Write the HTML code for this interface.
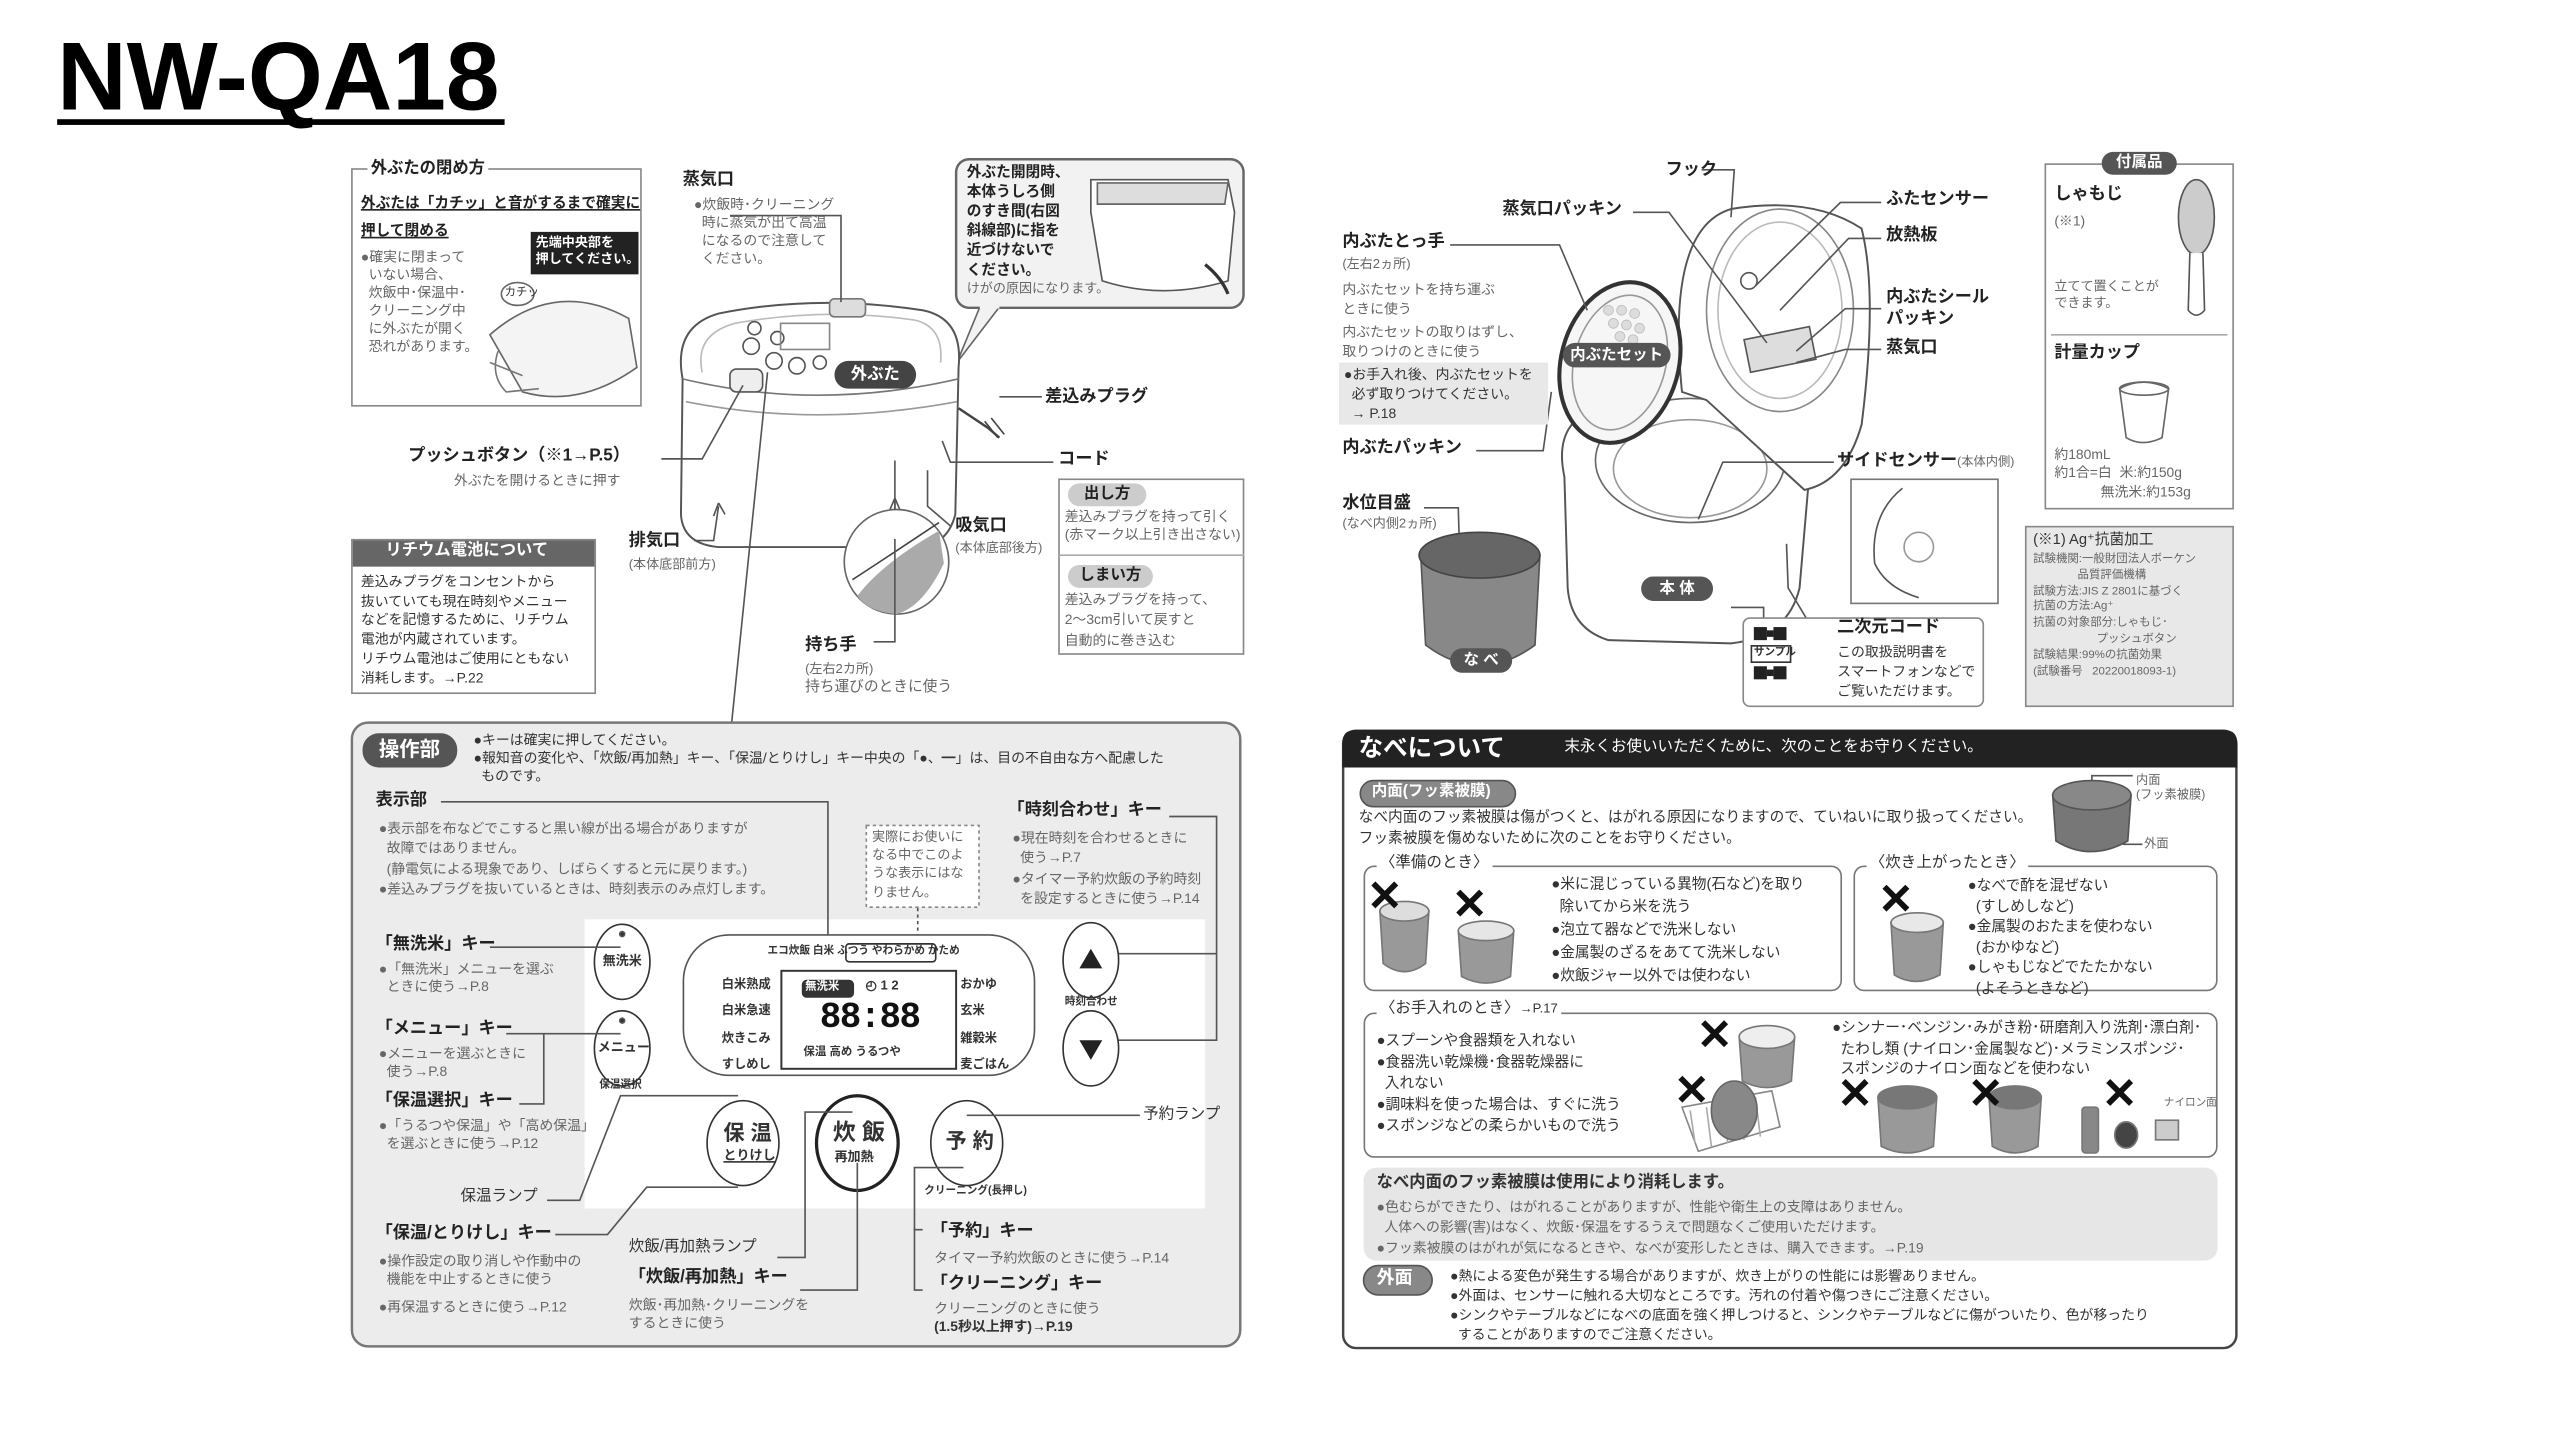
<!DOCTYPE html>
<html><head><meta charset="utf-8">
<style>
html,body{margin:0;padding:0;background:#fff;}
body{width:2560px;height:1440px;overflow:hidden;position:relative;}
#s{position:absolute;left:0;top:0;width:1568px;height:882px;transform:scale(1.633);transform-origin:0 0;font-family:"Liberation Sans","Noto Sans CJK JP",sans-serif;color:#222;}
#s svg{position:absolute;left:0;top:0;}
.t{position:absolute;font-size:8.5px;line-height:1.3;white-space:nowrap;color:#333;}
.g{color:#666;}
.b{font-weight:bold;font-size:10.5px;color:#222;}
.pill{position:absolute;background:#555;color:#fff;font-weight:bold;border-radius:9px;text-align:center;white-space:nowrap;}
.w{background:#fff;padding:0 2px;}
</style></head><body>
<div id="s">
<svg width="1568" height="882" viewBox="0 0 1568 882" fill="none" stroke="#555" stroke-width="1">
<rect x="35" y="73" width="274" height="3.5" fill="#000" stroke="none"/>
<rect x="215.5" y="103.5" width="177" height="145" stroke="#888"/>
<rect x="325" y="142" width="66" height="26" fill="#222" stroke="none"/>
<path d="M300 205 Q340 170 385 195 L390 225 Q355 250 320 240 Z" fill="#f4f4f4" stroke="#666"/>
<path d="M305 215 Q300 230 310 240 L330 238 M300 222 L320 230" stroke="#777"/>
<ellipse cx="317" cy="180" rx="10" ry="7" fill="#fff" stroke="#666"/>
<rect x="585.5" y="97.5" width="176" height="91" rx="8" stroke="#666" stroke-width="1.5" fill="#f2f2f2"/>
<path d="M600 188 L586 222 L612 188" fill="#f2f2f2" stroke="#666"/>
<line x1="600" y1="188" x2="612" y2="188" stroke="#f2f2f2" stroke-width="2"/>
<path d="M668 110 L752 110 L756 130 L752 172 Q712 184 675 172 L668 130 Z" fill="#fff" stroke="#555"/>
<path d="M672 112 L752 112 L750 125 L672 125 Z" fill="#ddd" stroke="#666"/>
<path d="M738 162 Q748 170 752 180" stroke="#333" stroke-width="2"/>
<path d="M418 232 Q412 200 440 192 Q500 180 565 190 Q590 195 587 225 L585 315 Q580 335 560 335 L440 335 Q418 333 417 315 Z" fill="#fff" stroke="#555" stroke-width="1.2"/>
<path d="M418 232 Q500 252 587 232" stroke="#777"/>
<path d="M420 246 Q500 262 586 246" stroke="#999"/>
<path d="M430 228 Q425 205 450 198 Q505 188 560 196 Q578 200 576 222" stroke="#bbb"/>
<rect x="508" y="183" width="22" height="11" rx="3" fill="#ddd" stroke="#777"/>
<circle cx="462" cy="201" r="4"/><circle cx="460" cy="212" r="5"/><circle cx="474" cy="221" r="5"/>
<circle cx="488" cy="224" r="5"/><circle cx="476" cy="207" r="4"/>
<rect x="478" y="198" width="30" height="16" stroke="#888"/>
<rect x="447" y="226" width="20" height="14" rx="4" fill="#eee" stroke="#555"/>
<circle cx="502" cy="222" r="4"/>
<path d="M587 250 L605 262 L612 268" stroke="#444" stroke-width="1.5"/>
<path d="M603 258 l8 10 M607 256 l8 10" stroke="#444"/>
<polyline points="447,132 515,132 515,185"/>
<polyline points="612,243 638,243"/>
<polyline points="405,281 430,281 455,236"/>
<polyline points="577,270 582,283 645,283"/>
<polyline points="568,288 568,310 582,322"/>
<path d="M440 308 l-3 8 M440 308 l4 7" />
<polyline points="425,331 437,331 440,310"/>
<path d="M548 305 l-3 7 M548 305 l3 7"/><line x1="548" y1="305" x2="548" y2="315"/>
<polyline points="470,228 448,443"/>
<circle cx="549" cy="344" r="32" fill="#fff" stroke="#666"/>
<path d="M525 365 Q540 345 575 325 L578 345 Q565 372 549 376 Q532 375 525 365Z" fill="#aaa" stroke="none"/>
<path d="M522 355 Q545 340 575 320" stroke="#444"/>
<polyline points="548,330 548,393 535,393"/>
<line x1="548" y1="282" x2="548" y2="312"/>
<rect x="648.5" y="293.5" width="113" height="107" stroke="#888"/>
<line x1="648" y1="340" x2="762" y2="340" stroke="#aaa"/>
<rect x="215.5" y="330.5" width="149" height="94" stroke="#888"/>
<rect x="216" y="331" width="148" height="16" fill="#666" stroke="none"/>
<rect x="215.5" y="442.5" width="544" height="382" rx="10" fill="#ececec" stroke="#777" stroke-width="1.5"/>
<rect x="358" y="563" width="380" height="177" fill="#fff" stroke="none"/>
<rect x="222" y="449" width="58" height="21" rx="10" fill="#555" stroke="none"/>
<polyline points="270,491 507,491 507,600"/>
<rect x="530.5" y="505.5" width="69" height="50" stroke="#888" stroke-dasharray="2,2" fill="#fff"/>
<line x1="562" y1="556" x2="562" y2="597" stroke-dasharray="2,2"/>
<polyline points="716,500 745,500 745,637 672,637"/>
<line x1="745" y1="584" x2="672" y2="584"/>
<rect x="418.5" y="572.5" width="215" height="86" rx="28" stroke="#555" fill="#fff"/>
<rect x="478.5" y="594.5" width="107" height="60" stroke="#333" stroke-width="1.2"/>
<rect x="491" y="600" width="32" height="11" rx="3" fill="#333" stroke="none"/>
<rect x="518" y="578" width="55" height="11" rx="2" stroke="#333"/>
<ellipse cx="381" cy="589" rx="17" ry="23" fill="#fff" stroke="#333"/>
<ellipse cx="381" cy="642" rx="17" ry="23" fill="#fff" stroke="#333"/>
<ellipse cx="668" cy="588" rx="17" ry="23" fill="#fff" stroke="#333"/>
<ellipse cx="668" cy="642" rx="17" ry="23" fill="#fff" stroke="#333"/>
<path d="M661 593 L668 581 L675 593Z M661 637 L668 649 L675 637Z" fill="#222" stroke="none"/>
<ellipse cx="455" cy="700" rx="22" ry="26" fill="#fff" stroke="#333"/>
<ellipse cx="525" cy="700" rx="25" ry="29" fill="#fff" stroke="#222" stroke-width="2"/>
<ellipse cx="592" cy="700" rx="22" ry="26" fill="#fff" stroke="#333"/>
<circle cx="381" cy="572" r="1.5" fill="#333"/><circle cx="381" cy="625" r="1.5" fill="#333"/>
<polyline points="300,580 380,580"/>
<polyline points="310,633 380,633"/>
<polyline points="333,633 333,676 318,676"/>
<polyline points="335,735 355,735 380,671 452,671"/>
<polyline points="340,756 372,756 396,727 452,727"/>
<polyline points="476,770 493,770 493,681 522,681"/>
<polyline points="490,790 525,790 525,712"/>
<polyline points="698,683 592,683"/>
<polyline points="565,753 560,753 560,715 590,715"/>
<polyline points="565,790 560,790 560,752"/>
<path d="M958 292 Q950 255 985 248 L1090 245 Q1110 250 1108 290 L1102 360 Q1095 390 1060 394 L985 392 Q962 385 960 360 Z" fill="#fff" stroke="#555" stroke-width="1.2"/>
<ellipse cx="1035" cy="282" rx="58" ry="38" fill="#fff" stroke="#666"/>
<ellipse cx="1035" cy="287" rx="47" ry="30" stroke="#999"/>
<path d="M1030 240 Q1020 140 1060 128 Q1110 120 1140 140 Q1150 180 1140 260 Q1130 295 1105 300 L1045 245Z" fill="#fff" stroke="#555" stroke-width="1.2"/>
<ellipse cx="1090" cy="190" rx="45" ry="62" stroke="#888"/>
<ellipse cx="1090" cy="190" rx="38" ry="54" stroke="#bbb"/>
<circle cx="1071" cy="172" r="5"/>
<path d="M1068 208 L1108 200 L1112 220 L1072 228Z" fill="#ddd" stroke="#555"/>
<ellipse cx="992" cy="222" rx="36" ry="50" transform="rotate(15 992 222)" fill="#f6f6f6" stroke="#333" stroke-width="2.5"/>
<ellipse cx="992" cy="222" rx="28" ry="42" transform="rotate(15 992 222)" stroke="#999"/>
<g fill="#ddd" stroke="#bbb" stroke-width=".5"><circle cx="985" cy="190" r="3"/><circle cx="993" cy="190" r="3"/><circle cx="1001" cy="192" r="3"/><circle cx="988" cy="198" r="3"/><circle cx="996" cy="199" r="3"/><circle cx="1004" cy="201" r="3"/><circle cx="992" cy="206" r="3"/><circle cx="1000" cy="208" r="3"/></g>
<polyline points="888,150 955,150 972,190"/>
<polyline points="1000,130 1022,130 1082,210"/>
<polyline points="1042,104 1062,104 1060,133 M1062,104 1068,132"/>
<polyline points="1152,124 1127,124 1075,175"/>
<polyline points="1152,146 1132,146 1090,190"/>
<polyline points="1152,189 1130,189 1100,215"/>
<polyline points="1152,214 1130,214 1100,222"/>
<polyline points="904,276 945,276 950,240"/>
<polyline points="1123,283 1055,283 1040,318"/>
<polyline points="872,311 893,311 894,345"/>
<polyline points="1094,333 1095,360 1107,380"/>
<polyline points="1080,380 1080,372 1060,372"/>
<rect x="1133.5" y="293.5" width="90" height="76" fill="#fff" stroke="#777"/>
<path d="M1165 299 Q1145 315 1148 345 Q1155 360 1175 366" stroke="#555"/>
<circle cx="1175" cy="335" r="9" stroke="#999"/>
<path d="M870 340 L873 395 Q906 420 940 395 L943 340Z" fill="#888" stroke="#555"/>
<ellipse cx="906" cy="340" rx="37" ry="14" fill="#666" stroke="#444"/>
<rect x="1067.5" y="378.5" width="147" height="54" rx="4" fill="#fff" stroke="#888"/>
<g fill="#222" stroke="none"><rect x="1074" y="384" width="8" height="8"/><rect x="1086" y="384" width="8" height="8"/><rect x="1074" y="408" width="8" height="8"/><rect x="1086" y="408" width="8" height="8"/><rect x="1082" y="386" width="4" height="4"/><rect x="1082" y="410" width="4" height="4"/></g>
<rect x="1072.5" y="395.5" width="24" height="10" fill="#fff" stroke="#333"/>
<rect x="1252.5" y="100.5" width="115" height="211" stroke="#888"/>
<line x1="1256" y1="205" x2="1364" y2="205" stroke="#aaa"/>
<ellipse cx="1345" cy="133" rx="11" ry="23" fill="#ccc" stroke="#555"/>
<path d="M1341 155 L1340 190 Q1345 196 1350 190 L1349 155" fill="#fff" stroke="#555"/>
<path d="M1298 238 Q1312 230 1328 238 L1324 268 Q1312 274 1302 268Z" fill="#fff" stroke="#666"/>
<ellipse cx="1313" cy="238" rx="15" ry="4" stroke="#666"/>
<rect x="1240.5" y="322.5" width="127" height="110" fill="#e8e8e8" stroke="#888"/>
<rect x="822.5" y="447.5" width="547" height="378" rx="8" fill="#fff" stroke="#444" stroke-width="1.5"/>
<path d="M822 470 L822 455 Q822 447 830 447 L1362 447 Q1370 447 1370 455 L1370 470Z" fill="#222" stroke="none"/>
<rect x="833" y="478" width="95" height="16" rx="8" fill="#888" stroke="#555"/>
<path d="M1257 487 L1259 515 Q1280 528 1303 515 L1305 487Z" fill="#777" stroke="#555"/>
<ellipse cx="1281" cy="487" rx="24" ry="9" fill="#888" stroke="#555"/>
<polyline points="1281,478 1281,475 1306,475"/><polyline points="1300,517 1312,517"/>
<rect x="835.5" y="530.5" width="292" height="76" rx="6" stroke="#777"/>
<rect x="1135.5" y="530.5" width="222" height="76" rx="6" stroke="#777"/>
<rect x="835.5" y="620.5" width="522" height="88" rx="6" stroke="#777"/>
<rect x="835" y="715" width="523" height="57" rx="8" fill="#e6e6e6" stroke="none"/>
<rect x="835" y="775" width="42" height="18" rx="9" fill="#888" stroke="#555"/>
<g fill="#999" stroke="#777">
<path d="M845 558 L847 590 Q860 600 873 590 L875 558Z"/><ellipse cx="860" cy="558" rx="15" ry="6" fill="#ddd"/>
<path d="M893 570 L895 598 Q910 606 925 598 L927 570Z"/><ellipse cx="910" cy="570" rx="17" ry="6" fill="#e6e6e6"/>
<path d="M1158 565 L1160 597 Q1173 605 1188 597 L1190 565Z"/><ellipse cx="1174" cy="565" rx="16" ry="6" fill="#e8e8e8"/>
<path d="M1065 635 L1067 662 Q1082 670 1097 662 L1099 635Z"/><ellipse cx="1082" cy="635" rx="17" ry="7" fill="#eee"/>
<path d="M1150 672 L1152 702 Q1168 710 1184 702 L1186 672Z"/><ellipse cx="1168" cy="672" rx="18" ry="7" fill="#777"/>
<path d="M1218 672 L1220 702 Q1234 710 1248 702 L1250 672Z"/><ellipse cx="1234" cy="672" rx="16" ry="7" fill="#777"/>
<rect x="1275" y="678" width="10" height="28" rx="2" fill="#888"/>
<ellipse cx="1302" cy="695" rx="7" ry="8" fill="#444"/>
<rect x="1320" y="686" width="14" height="12" fill="#ccc"/>
</g>
<path d="M1030 678 L1085 668 L1090 690 L1040 705Z" fill="#fff" stroke="#888"/>
<path d="M1035 680 L1038 700 M1045 678 L1048 702 M1055 676 L1058 700 M1065 674 L1068 698 M1075 672 L1078 696" stroke="#aaa"/>
<ellipse cx="1062" cy="680" rx="14" ry="18" fill="#888" stroke="#666"/>
<g stroke="#111" stroke-width="3.5" stroke-linecap="butt">
<path d="M841 541 L855 555 M855 541 L841 555"/>
<path d="M893 546 L907 560 M907 546 L893 560"/>
<path d="M1154 543 L1168 557 M1168 543 L1154 557"/>
<path d="M1043 626 L1057 640 M1057 626 L1043 640"/>
<path d="M1029 660 L1043 674 M1043 660 L1029 674"/>
<path d="M1129 662 L1143 676 M1143 662 L1129 676"/>
<path d="M1209 662 L1223 676 M1223 662 L1209 676"/>
<path d="M1291 662 L1305 676 M1305 662 L1291 676"/>
</g>
</svg>

<div class="t" style="left:35px;top:15px;font-size:59px;font-weight:bold;color:#000;line-height:1.1;font-family:'Liberation Sans',sans-serif;">NW-QA18</div>

<div class="t b w" style="left:225px;top:97px;font-size:10px;">外ぶたの閉め方</div>
<div class="t b" style="left:221px;top:116px;font-size:9px;text-decoration:underline;line-height:1.9;">外ぶたは「カチッ」と音がするまで確実に<br>押して閉める</div>
<div class="t g" style="left:221px;top:152px;">●確実に閉まって<br>&nbsp;&nbsp;いない場合、<br>&nbsp;&nbsp;炊飯中･保温中･<br>&nbsp;&nbsp;クリーニング中<br>&nbsp;&nbsp;に外ぶたが開く<br>&nbsp;&nbsp;恐れがあります。</div>
<div class="t" style="left:328px;top:144px;color:#fff;font-size:8px;font-weight:bold;">先端中央部を<br>押してください。</div>
<div class="t" style="left:309px;top:175px;font-size:7px;">カチッ</div>

<div class="t b" style="left:418px;top:104px;">蒸気口</div>
<div class="t g" style="left:425px;top:120px;">●炊飯時･クリーニング<br>&nbsp;&nbsp;時に蒸気が出て高温<br>&nbsp;&nbsp;になるので注意して<br>&nbsp;&nbsp;ください。</div>

<div class="t b" style="left:592px;top:100px;font-size:9px;line-height:1.33;">外ぶた開閉時、<br>本体うしろ側<br>のすき間(右図<br>斜線部)に指を<br>近づけないで<br>ください。</div>
<div class="t g" style="left:592px;top:172px;font-size:8px;">けがの原因になります。</div>

<div class="pill" style="left:511px;top:221px;width:50px;height:17px;font-size:10px;line-height:17px;background:#444;">外ぶた</div>
<div class="t b" style="left:640px;top:237px;">差込みプラグ</div>
<div class="t b" style="left:250px;top:273px;">プッシュボタン（※1→P.5）</div>
<div class="t g" style="left:278px;top:289px;">外ぶたを開けるときに押す</div>
<div class="t b" style="left:648px;top:275px;">コード</div>
<div class="pill" style="left:654px;top:296px;width:48px;height:14px;font-size:9.5px;line-height:14px;background:#ccc;color:#222;">出し方</div>
<div class="t g" style="left:652px;top:311px;">差込みプラグを持って引く<br>(赤マーク以上引き出さない)</div>
<div class="pill" style="left:654px;top:346px;width:52px;height:14px;font-size:9.5px;line-height:14px;background:#ccc;color:#222;">しまい方</div>
<div class="t g" style="left:652px;top:361px;line-height:1.45;">差込みプラグを持って、<br>2～3cm引いて戻すと<br>自動的に巻き込む</div>
<div class="t b" style="left:385px;top:325px;">排気口</div>
<div class="t g" style="left:385px;top:341px;font-size:8px;">(本体底部前方)</div>
<div class="t b" style="left:585px;top:316px;">吸気口</div>
<div class="t g" style="left:585px;top:331px;font-size:8px;">(本体底部後方)</div>
<div class="t b" style="left:493px;top:389px;">持ち手</div>
<div class="t g" style="left:493px;top:405px;font-size:8px;">(左右2カ所)</div>
<div class="t g" style="left:493px;top:415px;font-size:9px;">持ち運びのときに使う</div>
<div class="t b" style="left:236px;top:331px;color:#fff;font-size:10px;">リチウム電池について</div>
<div class="t" style="left:221px;top:351px;line-height:1.38;">差込みプラグをコンセントから<br>抜いていても現在時刻やメニュー<br>などを記憶するために、リチウム<br>電池が内蔵されています。<br>リチウム電池はご使用にともない<br>消耗します。→P.22</div>

<div class="t" style="left:232px;top:451px;color:#fff;font-weight:bold;font-size:12.5px;">操作部</div>
<div class="t" style="left:290px;top:448px;line-height:1.3;">●キーは確実に押してください。<br>●報知音の変化や、「炊飯/再加熱」キー、「保温/とりけし」キー中央の「●、━」は、目の不自由な方へ配慮した<br>&nbsp;&nbsp;ものです。</div>
<div class="t b" style="left:230px;top:484px;">表示部</div>
<div class="t g" style="left:232px;top:501px;line-height:1.45;">●表示部を布などでこすると黒い線が出る場合がありますが<br>&nbsp;&nbsp;故障ではありません。<br>&nbsp;&nbsp;(静電気による現象であり、しばらくすると元に戻ります。)<br>●差込みプラグを抜いているときは、時刻表示のみ点灯します。</div>
<div class="t g" style="left:534px;top:507px;line-height:1.4;font-size:8px;">実際にお使いに<br>なる中でこのよ<br>うな表示にはな<br>りません。</div>
<div class="t b" style="left:617px;top:490px;">「時刻合わせ」キー</div>
<div class="t g" style="left:620px;top:507px;line-height:1.45;">●現在時刻を合わせるときに<br>&nbsp;&nbsp;使う→P.7<br>●タイマー予約炊飯の予約時刻<br>&nbsp;&nbsp;を設定するときに使う→P.14</div>
<div class="t" style="left:470px;top:579px;font-size:6.5px;font-weight:bold;">エコ炊飯 白米 ふつう やわらかめ かため</div>
<div class="t" style="left:442px;top:595px;font-size:7.5px;font-weight:bold;line-height:16.3px;">白米熟成<br>白米急速<br>炊きこみ<br>すしめし</div>
<div class="t" style="left:588px;top:595px;font-size:7.5px;font-weight:bold;line-height:16.3px;">おかゆ<br>玄米<br>雑穀米<br>麦ごはん</div>
<div class="t" style="left:493px;top:600px;font-size:7px;color:#fff;font-weight:bold;">無洗米</div>
<div class="t" style="left:530px;top:599px;font-size:8px;font-weight:bold;">◴ 1 2</div>
<div class="t" style="left:502px;top:610px;font-size:22px;font-weight:bold;color:#111;font-family:'Liberation Mono',monospace;letter-spacing:-1px;">88:88</div>
<div class="t" style="left:492px;top:640px;font-size:7px;font-weight:bold;">保温 高め うるつや</div>
<div class="t" style="left:369px;top:584px;font-size:8px;font-weight:bold;">無洗米</div>
<div class="t" style="left:366px;top:637px;font-size:8px;font-weight:bold;">メニュー</div>
<div class="t" style="left:367px;top:661px;font-size:6.5px;font-weight:bold;">保温選択</div>
<div class="t" style="left:652px;top:610px;font-size:6.5px;font-weight:bold;">時刻合わせ</div>
<div class="t" style="left:443px;top:686px;font-size:13px;font-weight:bold;">保 温</div>
<div class="t" style="left:443px;top:703px;font-size:8px;font-weight:bold;text-decoration:underline;">とりけし</div>
<div class="t" style="left:510px;top:684px;font-size:14px;font-weight:bold;">炊 飯</div>
<div class="t" style="left:511px;top:704px;font-size:8px;font-weight:bold;">再加熱</div>
<div class="t" style="left:579px;top:691px;font-size:13px;font-weight:bold;">予 約</div>
<div class="t" style="left:566px;top:726px;font-size:6.5px;font-weight:bold;">クリーニング(長押し)</div>
<div class="t b" style="left:230px;top:572px;">「無洗米」キー</div>
<div class="t g" style="left:232px;top:588px;">●「無洗米」メニューを選ぶ<br>&nbsp;&nbsp;ときに使う→P.8</div>
<div class="t b" style="left:230px;top:624px;">「メニュー」キー</div>
<div class="t g" style="left:232px;top:640px;">●メニューを選ぶときに<br>&nbsp;&nbsp;使う→P.8</div>
<div class="t b" style="left:230px;top:668px;">「保温選択」キー</div>
<div class="t g" style="left:232px;top:684px;">●「うるつや保温」や「高め保温」<br>&nbsp;&nbsp;を選ぶときに使う→P.12</div>
<div class="t" style="left:282px;top:727px;font-size:9.5px;">保温ランプ</div>
<div class="t b" style="left:230px;top:749px;">「保温/とりけし」キー</div>
<div class="t g" style="left:232px;top:767px;line-height:1.35;">●操作設定の取り消しや作動中の<br>&nbsp;&nbsp;機能を中止するときに使う</div>
<div class="t g" style="left:232px;top:795px;">●再保温するときに使う→P.12</div>
<div class="t" style="left:385px;top:758px;font-size:9.5px;">炊飯/再加熱ランプ</div>
<div class="t b" style="left:385px;top:776px;">「炊飯/再加熱」キー</div>
<div class="t g" style="left:385px;top:794px;">炊飯･再加熱･クリーニングを<br>するときに使う</div>
<div class="t" style="left:700px;top:677px;font-size:9.5px;">予約ランプ</div>
<div class="t b" style="left:570px;top:748px;">「予約」キー</div>
<div class="t g" style="left:572px;top:765px;">タイマー予約炊飯のときに使う→P.14</div>
<div class="t b" style="left:570px;top:780px;">「クリーニング」キー</div>
<div class="t g" style="left:572px;top:796px;">クリーニングのときに使う<br><b style="color:#333">(1.5秒以上押す)→P.19</b></div>

<div class="t b" style="left:1020px;top:98px;">フック</div>
<div class="t b" style="left:920px;top:122px;">蒸気口パッキン</div>
<div class="t b" style="left:822px;top:142px;">内ぶたとっ手</div>
<div class="t g" style="left:822px;top:157px;font-size:8px;">(左右2ヵ所)</div>
<div class="t g" style="left:822px;top:171px;line-height:1.45;">内ぶたセットを持ち運ぶ<br>ときに使う</div>
<div class="t g" style="left:822px;top:197px;line-height:1.45;">内ぶたセットの取りはずし、<br>取りつけのときに使う</div>
<div class="t" style="left:820px;top:222px;width:128px;height:38px;background:#e8e8e8;"></div>
<div class="t" style="left:823px;top:224px;line-height:1.4;">●お手入れ後、内ぶたセットを<br>&nbsp;&nbsp;必ず取りつけてください。<br>&nbsp;&nbsp;→ P.18</div>
<div class="pill" style="left:957px;top:210px;width:66px;height:15px;font-size:9.5px;line-height:15px;">内ぶたセット</div>
<div class="t b" style="left:822px;top:268px;">内ぶたパッキン</div>
<div class="t b" style="left:1155px;top:116px;">ふたセンサー</div>
<div class="t b" style="left:1155px;top:138px;">放熱板</div>
<div class="t b" style="left:1155px;top:176px;line-height:1.25;">内ぶたシール<br>パッキン</div>
<div class="t b" style="left:1155px;top:207px;">蒸気口</div>
<div class="t b" style="left:1125px;top:276px;">サイドセンサー<span style="font-weight:normal;font-size:7.5px;color:#666">(本体内側)</span></div>
<div class="t b" style="left:822px;top:302px;">水位目盛</div>
<div class="t g" style="left:822px;top:316px;font-size:8px;">(なべ内側2ヵ所)</div>
<div class="pill" style="left:888px;top:397px;width:38px;height:15px;font-size:9.5px;line-height:15px;">な べ</div>
<div class="pill" style="left:1005px;top:353px;width:44px;height:15px;font-size:9.5px;line-height:15px;">本 体</div>
<div class="t" style="left:1074px;top:396px;font-size:6.5px;font-weight:bold;">サンプル</div>
<div class="t b" style="left:1125px;top:378px;">二次元コード</div>
<div class="t g" style="left:1125px;top:394px;line-height:1.4;color:#333;">この取扱説明書を<br>スマートフォンなどで<br>ご覧いただけます。</div>
<div class="pill" style="left:1287px;top:93px;width:46px;height:14px;font-size:9.5px;line-height:14px;">付属品</div>
<div class="t b" style="left:1258px;top:113px;">しゃもじ</div>
<div class="t g" style="left:1258px;top:130px;">(※1)</div>
<div class="t g" style="left:1258px;top:171px;font-size:8px;">立てて置くことが<br>できます。</div>
<div class="t b" style="left:1258px;top:210px;">計量カップ</div>
<div class="t g" style="left:1258px;top:273px;line-height:1.35;">約180mL<br>約1合=白&nbsp;&nbsp;米:約150g<br>&nbsp;&nbsp;&nbsp;&nbsp;&nbsp;&nbsp;&nbsp;&nbsp;&nbsp;&nbsp;&nbsp;&nbsp;無洗米:約153g</div>
<div class="t" style="left:1245px;top:325px;font-size:9px;">(※1) Ag⁺抗菌加工</div>
<div class="t g" style="left:1245px;top:338px;font-size:7px;line-height:1.4;">試験機関:一般財団法人ボーケン<br>&nbsp;&nbsp;&nbsp;&nbsp;&nbsp;&nbsp;&nbsp;&nbsp;&nbsp;&nbsp;&nbsp;&nbsp;&nbsp;&nbsp;品質評価機構<br>試験方法:JIS Z 2801に基づく<br>抗菌の方法:Ag⁺<br>抗菌の対象部分:しゃもじ･<br>&nbsp;&nbsp;&nbsp;&nbsp;&nbsp;&nbsp;&nbsp;&nbsp;&nbsp;&nbsp;&nbsp;&nbsp;&nbsp;&nbsp;&nbsp;&nbsp;&nbsp;&nbsp;&nbsp;&nbsp;プッシュボタン<br>試験結果:99%の抗菌効果<br>(試験番号&nbsp;&nbsp;&nbsp;20220018093-1)</div>

<div class="t" style="left:832px;top:449px;color:#fff;font-weight:bold;font-size:15px;">なべについて</div>
<div class="t" style="left:958px;top:452px;color:#fff;font-size:9.5px;">末永くお使いいただくために、次のことをお守りください。</div>
<div class="t" style="left:840px;top:479px;color:#fff;font-weight:bold;font-size:9.5px;">内面(フッ素被膜)</div>
<div class="t" style="left:832px;top:494px;font-size:9px;line-height:1.45;">なべ内面のフッ素被膜は傷がつくと、はがれる原因になりますので、ていねいに取り扱ってください。<br>フッ素被膜を傷めないために次のことをお守りください。</div>
<div class="t g" style="left:1308px;top:473px;font-size:7.5px;line-height:1.2;">内面<br>(フッ素被膜)</div>
<div class="t g" style="left:1313px;top:512px;font-size:7.5px;">外面</div>
<div class="t w" style="left:843px;top:523px;font-size:9.5px;">〈準備のとき〉</div>
<div class="t" style="left:950px;top:535px;font-size:9px;line-height:1.55;">●米に混じっている異物(石など)を取り<br>&nbsp;&nbsp;除いてから米を洗う<br>●泡立て器などで洗米しない<br>●金属製のざるをあてて洗米しない<br>●炊飯ジャー以外では使わない</div>
<div class="t w" style="left:1143px;top:523px;font-size:9.5px;">〈炊き上がったとき〉</div>
<div class="t" style="left:1205px;top:536px;font-size:9px;line-height:1.4;">●なべで酢を混ぜない<br>&nbsp;&nbsp;(すしめしなど)<br>●金属製のおたまを使わない<br>&nbsp;&nbsp;(おかゆなど)<br>●しゃもじなどでたたかない<br>&nbsp;&nbsp;(よそうときなど)</div>
<div class="t w" style="left:843px;top:612px;font-size:9.5px;">〈お手入れのとき〉<span style="font-size:8px">→P.17</span></div>
<div class="t" style="left:843px;top:631px;font-size:9px;line-height:1.45;">●スプーンや食器類を入れない<br>●食器洗い乾燥機･食器乾燥器に<br>&nbsp;&nbsp;入れない<br>●調味料を使った場合は、すぐに洗う<br>●スポンジなどの柔らかいもので洗う</div>
<div class="t" style="left:1122px;top:623px;font-size:9px;line-height:1.4;">●シンナー･ベンジン･みがき粉･研磨剤入り洗剤･漂白剤･<br>&nbsp;&nbsp;たわし類 (ナイロン･金属製など)･メラミンスポンジ･<br>&nbsp;&nbsp;スポンジのナイロン面などを使わない</div>
<div class="t g" style="left:1325px;top:672px;font-size:6.5px;">ナイロン面</div>
<div class="t" style="left:843px;top:718px;font-size:10px;font-weight:bold;">なべ内面のフッ素被膜は使用により消耗します。</div>
<div class="t g" style="left:843px;top:733px;font-size:8.5px;line-height:1.45;">●色むらができたり、はがれることがありますが、性能や衛生上の支障はありません。<br>&nbsp;&nbsp;人体への影響(害)はなく、炊飯･保温をするうえで問題なくご使用いただけます。<br>●フッ素被膜のはがれが気になるときや、なべが変形したときは、購入できます。→P.19</div>
<div class="t" style="left:843px;top:776px;color:#fff;font-weight:bold;font-size:11px;">外面</div>
<div class="t" style="left:888px;top:776px;font-size:8.5px;line-height:1.4;">●熱による変色が発生する場合がありますが、炊き上がりの性能には影響ありません。<br>●外面は、センサーに触れる大切なところです。汚れの付着や傷つきにご注意ください。<br>●シンクやテーブルなどになべの底面を強く押しつけると、シンクやテーブルなどに傷がついたり、色が移ったり<br>&nbsp;&nbsp;することがありますのでご注意ください。</div>
</div>
</body></html>
